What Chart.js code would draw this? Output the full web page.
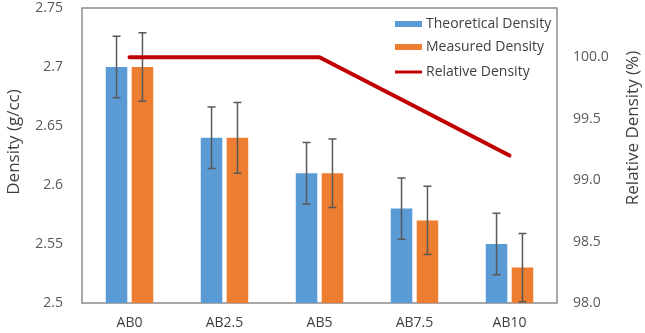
<!DOCTYPE html>
<html>
<head>
<meta charset="utf-8">
<script src="https://cdn.jsdelivr.net/npm/chart.js@4.4.1/dist/chart.umd.min.js"></script>
<style>
  body { margin:0; background:#fff; }
  .wrap { width:645px; height:333px; position:relative; }
</style>
</head>
<body>
<div class="wrap">
  <canvas id="myChart"></canvas>
</div>
<script>
var labels = ["AB0", "AB2.5", "AB5", "AB7.5", "AB10"];
var theoretical = [2.70, 2.64, 2.61, 2.58, 2.55];
var measured = [2.70, 2.64, 2.61, 2.57, 2.53];
var relative = [100.0, 100.0, 100.0, 99.6, 99.2];
var theoErr = [0.026, 0.026, 0.026, 0.026, 0.026];
var measErr = [0.029, 0.030, 0.029, 0.029, 0.029];

var FONT = "'Open Sans', sans-serif";

// error bars, drawn right after each bar dataset (so the line stays on top)
var errorBars = {
  id: 'errorBars',
  afterDatasetDraw: function(chart, args) {
    var ds = chart.data.datasets[args.index];
    if (!ds.errors) return;
    var ctx = chart.ctx, y = chart.scales.y;
    ctx.save();
    ctx.strokeStyle = '#595959';
    ctx.lineWidth = 1.5;
    args.meta.data.forEach(function(bar, i) {
      var v = ds.data[i], e = ds.errors[i];
      var top = y.getPixelForValue(v + e), bot = y.getPixelForValue(v - e);
      ctx.beginPath();
      ctx.moveTo(bar.x, top); ctx.lineTo(bar.x, bot);
      ctx.moveTo(bar.x - 4, top); ctx.lineTo(bar.x + 4, top);
      ctx.moveTo(bar.x - 4, bot); ctx.lineTo(bar.x + 4, bot);
      ctx.stroke();
    });
    ctx.restore();
  }
};

// plot box, titles and the legend inside the plot
var decor = {
  id: 'decor',
  beforeDatasetsDraw: function(chart) {
    var a = chart.chartArea, ctx = chart.ctx;
    ctx.save();
    ctx.strokeStyle = '#8c8c8c';
    ctx.lineWidth = 1.5;
    ctx.strokeRect(a.left, a.top, a.right - a.left, a.bottom - a.top);
    ctx.restore();
  },
  afterDraw: function(chart) {
    var a = chart.chartArea, ctx = chart.ctx;
    ctx.save();
    ctx.fillStyle = '#404040';
    ctx.font = '17px ' + FONT;
    ctx.textAlign = 'center';
    ctx.textBaseline = 'middle';
    ctx.translate(14, 142);
    ctx.rotate(-Math.PI / 2);
    ctx.fillText('Density (g/cc)', 0, 0);
    ctx.restore();

    ctx.save();
    ctx.fillStyle = '#404040';
    ctx.font = '17px ' + FONT;
    ctx.textAlign = 'center';
    ctx.textBaseline = 'middle';
    ctx.translate(633, 128);
    ctx.rotate(-Math.PI / 2);
    ctx.fillText('Relative Density (%)', 0, 0);
    ctx.restore();

    // legend
    ctx.save();
    ctx.font = '14px ' + FONT;
    ctx.textBaseline = 'middle';
    ctx.textAlign = 'left';
    var ys = [16, 39, 64];
    chart.data.datasets.forEach(function(ds, i) {
      var yy = a.top + ys[i];
      var x0 = a.right - 162;
      if (ds.type === 'line') {
        ctx.strokeStyle = ds.borderColor;
        ctx.lineWidth = 3;
        ctx.beginPath(); ctx.moveTo(x0, yy); ctx.lineTo(x0 + 27, yy); ctx.stroke();
      } else {
        ctx.fillStyle = ds.backgroundColor;
        ctx.fillRect(x0, yy - 3, 27, 6);
      }
      ctx.fillStyle = '#404040';
      ctx.fillText(ds.label, x0 + 31, yy);
    });
    ctx.restore();
  }
};

function fixY(w) {
  return function(s) { s.width = w; s.paddingTop = 0; s.paddingBottom = 0; };
}

var ctx = document.getElementById('myChart');
var myChart = new Chart(ctx, {
  data: {
    labels: labels,
    datasets: [
      { type: 'bar', label: 'Theoretical Density', data: theoretical, errors: theoErr,
        backgroundColor: '#5B9BD5', yAxisID: 'y', order: 1,
        categoryPercentage: 0.546, barPercentage: 0.83 },
      { type: 'bar', label: 'Measured Density', data: measured, errors: measErr,
        backgroundColor: '#ED7D31', yAxisID: 'y', order: 1,
        categoryPercentage: 0.546, barPercentage: 0.83 },
      { type: 'line', label: 'Relative Density', data: relative,
        borderColor: '#C00000', backgroundColor: '#C00000', borderWidth: 4,
        pointRadius: 0, tension: 0, yAxisID: 'y1', order: 0,
        borderCapStyle: 'round', borderJoinStyle: 'round' }
    ]
  },
  options: {
    responsive: true,
    maintainAspectRatio: false,
    animation: false,
    layout: { padding: { top: 8, bottom: 0, left: 0, right: 0 } },
    plugins: { legend: { display: false }, tooltip: { enabled: false } },
    scales: {
      x: {
        offset: true,
        grid: { display: false, drawTicks: false },
        border: { display: false },
        ticks: { color: '#404040', font: { family: FONT, size: 14 }, padding: 12 },
        afterFit: function(s) { s.height = 30; s.paddingLeft = 0; s.paddingRight = 0; }
      },
      y: {
        position: 'left',
        min: 2.5, max: 2.75,
        grid: { display: false, drawTicks: false },
        border: { display: false },
        ticks: { stepSize: 0.05, color: '#595959', font: { family: FONT, size: 14 }, padding: 19,
          callback: function(v) { return String(Number(v.toFixed(2))); } },
        afterFit: fixY(82)
      },
      y1: {
        position: 'right',
        min: 98, max: 100.4,
        grid: { display: false, drawTicks: false },
        border: { display: false },
        ticks: { stepSize: 0.5, color: '#595959', font: { family: FONT, size: 14 }, padding: 16,
          callback: function(v) { return v.toFixed(1); } },
        afterBuildTicks: function(s) {
          s.ticks = s.ticks.filter(function(t) { return Math.abs(t.value * 2 - Math.round(t.value * 2)) < 1e-6; });
        },
        afterFit: fixY(88)
      }
    }
  },
  plugins: [errorBars, decor]
});
</script>
</body>
</html>
